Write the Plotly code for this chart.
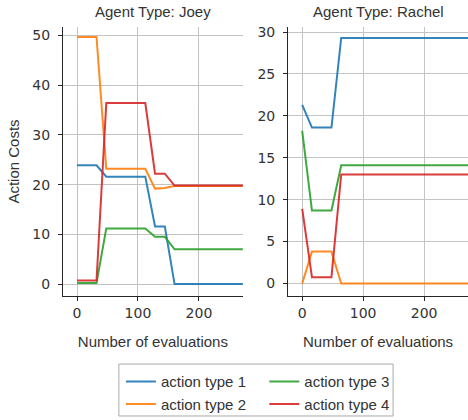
import plotly.graph_objects as go

# ---- data ----
evaluations = [0, 16, 32, 48, 64, 80, 96, 112, 128, 144, 160, 176, 192, 208, 224, 240, 256, 272, 288]

joey_type1 = [23.9, 23.9, 23.9, 21.6, 21.6, 21.6, 21.6, 21.6, 11.6, 11.6, 0.0, 0.0, 0.0, 0.0, 0.0, 0.0, 0.0, 0.0, 0.0]
joey_type2 = [49.7, 49.7, 49.7, 23.2, 23.2, 23.2, 23.2, 23.2, 19.2, 19.3, 19.7, 19.7, 19.7, 19.7, 19.7, 19.7, 19.7, 19.7, 19.7]
joey_type3 = [0.2, 0.2, 0.2, 11.2, 11.2, 11.2, 11.2, 11.2, 9.5, 9.5, 7.0, 7.0, 7.0, 7.0, 7.0, 7.0, 7.0, 7.0, 7.0]
joey_type4 = [0.7, 0.7, 0.7, 36.4, 36.4, 36.4, 36.4, 36.4, 22.2, 22.2, 19.8, 19.8, 19.8, 19.8, 19.8, 19.8, 19.8, 19.8, 19.8]

rachel_type1 = [21.3, 18.6, 18.6, 18.6, 29.3, 29.3, 29.3, 29.3, 29.3, 29.3, 29.3, 29.3, 29.3, 29.3, 29.3, 29.3, 29.3, 29.3, 29.3]
rachel_type2 = [0.0, 3.8, 3.8, 3.8, 0.0, 0.0, 0.0, 0.0, 0.0, 0.0, 0.0, 0.0, 0.0, 0.0, 0.0, 0.0, 0.0, 0.0, 0.0]
rachel_type3 = [18.2, 8.7, 8.7, 8.7, 14.1, 14.1, 14.1, 14.1, 14.1, 14.1, 14.1, 14.1, 14.1, 14.1, 14.1, 14.1, 14.1, 14.1, 14.1]
rachel_type4 = [8.9, 0.75, 0.75, 0.75, 13.0, 13.0, 13.0, 13.0, 13.0, 13.0, 13.0, 13.0, 13.0, 13.0, 13.0, 13.0, 13.0, 13.0, 13.0]

series_names = ["action type 1", "action type 2", "action type 3", "action type 4"]
colors = ["#1f77b4", "#ff7f0e", "#2ca02c", "#d62728"]
panel_titles = ["Agent Type: Joey", "Agent Type: Rachel"]
x_title = "Number of evaluations"
y_title = "Action Costs"

left_y_ticks = [0, 10, 20, 30, 40, 50]
right_y_ticks = [0, 5, 10, 15, 20, 25, 30]
x_ticks = [0, 100, 200]

joey = [joey_type1, joey_type2, joey_type3, joey_type4]
rachel = [rachel_type1, rachel_type2, rachel_type3, rachel_type4]

fig = go.Figure()

legend_for = ["legend", "legend", "legend2", "legend2"]
for i, name in enumerate(series_names):
    fig.add_trace(go.Scatter(
        x=evaluations, y=joey[i], mode="lines", name=name,
        line=dict(color=colors[i], width=2), opacity=0.9,
        xaxis="x", yaxis="y", legend=legend_for[i], showlegend=True,
    ))
for i, name in enumerate(series_names):
    fig.add_trace(go.Scatter(
        x=evaluations, y=rachel[i], mode="lines", name=name,
        line=dict(color=colors[i], width=2), opacity=0.9,
        xaxis="x2", yaxis="y2", showlegend=False,
    ))

text_col = "#333333"
spine_col = "#262626"
grid_col = "#c4c4c4"
label_font = dict(family="Liberation Sans, Arial, sans-serif", size=15, color=text_col)
tick_font = dict(family="DejaVu Sans, sans-serif", size=14, color=text_col)

common_x = dict(
    range=[-23, 272], tickvals=x_ticks, showgrid=True, gridcolor=grid_col, gridwidth=1,
    zeroline=False, showline=True, linecolor=spine_col, linewidth=1.3,
    ticks="outside", ticklen=4, tickcolor=spine_col, tickfont=tick_font, automargin=False,
    title=dict(text=x_title, font=label_font, standoff=16),
)
common_y = dict(
    showgrid=True, gridcolor=grid_col, gridwidth=1,
    zeroline=False, showline=True, linecolor=spine_col, linewidth=1.3,
    ticks="outside", ticklen=4, tickcolor=spine_col, tickfont=tick_font, automargin=False,
    ticklabelstandoff=5,
)

fig.update_layout(
    width=468, height=420,
    margin=dict(l=63, r=0, t=27, b=124, autoexpand=False),
    paper_bgcolor="white", plot_bgcolor="white",
    xaxis=dict(domain=[0, 0.444], anchor="y", **common_x),
    xaxis2=dict(domain=[0.556, 1.0], anchor="y2", **common_x),
    yaxis=dict(domain=[0, 1], anchor="x", range=[-2.4, 51.7], tickvals=left_y_ticks,
               title=dict(text=y_title, font=label_font, standoff=8), **common_y),
    yaxis2=dict(domain=[0, 1], anchor="x2", range=[-1.5, 30.6], tickvals=right_y_ticks, **common_y),
    legend=dict(x=0.143, y=-0.257, xanchor="left", yanchor="top", orientation="v",
                font=label_font, bgcolor="rgba(0,0,0,0)", tracegroupgap=0, itemwidth=30),
    legend2=dict(x=0.497, y=-0.257, xanchor="left", yanchor="top", orientation="v",
                 font=label_font, bgcolor="rgba(0,0,0,0)", tracegroupgap=0, itemwidth=30),
    showlegend=True,
)

# legend frame
fig.add_shape(type="rect", xref="paper", yref="paper",
              x0=0.138, x1=0.815, y0=-0.446, y1=-0.253,
              line=dict(color="#aaaaaa", width=1), fillcolor="rgba(0,0,0,0)")

# panel titles
for xref, t in zip(["x domain", "x2 domain"], panel_titles):
    fig.add_annotation(text=t, xref=xref, yref="paper", x=0.5, y=1,
                       xanchor="center", yanchor="bottom", yshift=5, showarrow=False,
                       font=label_font)

fig.write_html("out.html", config={"displayModeBar": False},
               post_script="document.body.style.margin='0';document.body.style.overflow='hidden';")
